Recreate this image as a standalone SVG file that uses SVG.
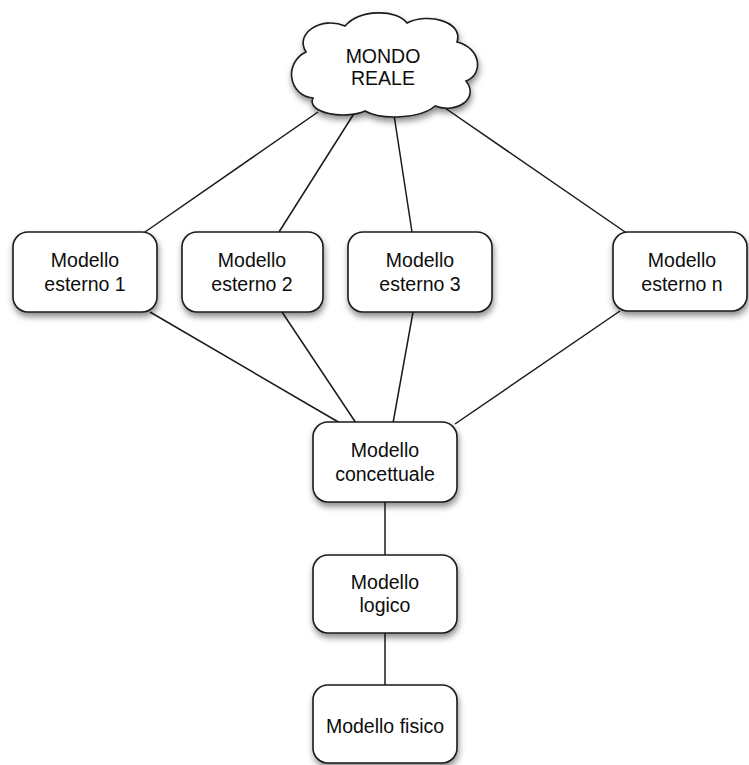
<svg xmlns="http://www.w3.org/2000/svg" width="749" height="765" viewBox="0 0 749 765">
  <style>
    .node { fill: #ffffff; stroke: #1a1a1a; stroke-width: 1.6; filter: url(#shadow); }
    .label { font-family: "Liberation Sans", Arial, sans-serif; font-size: 19.5px; fill: #0d0d0d; text-anchor: middle; }
    .edge { stroke: #1a1a1a; stroke-width: 1.5; fill: none; }
  </style>
  <defs>
    <filter id="shadow" x="-20%" y="-20%" width="140%" height="150%">
      <feDropShadow dx="1" dy="4" stdDeviation="3" flood-color="#000000" flood-opacity="0.45"/>
    </filter>
  </defs>
  <rect width="749" height="765" fill="#ffffff"/>

  <!-- connectors -->
  <g id="connectors">
    <line class="edge" x1="318" y1="112" x2="145" y2="232"/>
    <line class="edge" x1="355" y1="112" x2="279" y2="232"/>
    <line class="edge" x1="394" y1="115" x2="412" y2="232"/>
    <line class="edge" x1="445" y1="108" x2="628" y2="234"/>
    <line class="edge" x1="150" y1="312" x2="340" y2="423"/>
    <line class="edge" x1="282" y1="312" x2="356" y2="423"/>
    <line class="edge" x1="413" y1="312" x2="393" y2="423"/>
    <line class="edge" x1="620" y1="311" x2="455" y2="424"/>
    <line class="edge" x1="385" y1="502" x2="385" y2="555"/>
    <line class="edge" x1="385" y1="633" x2="385" y2="685"/>
  </g>

  <!-- real world cloud -->
  <g id="mondo-reale">
    <path class="node" d="M 306,52 C 294,33 322,16 345,26 C 360,9 397,9 407,23 C 428,12 464,22 457,42 C 481,48 484,74 466,81 C 480,99 456,114 435,106 C 420,119 381,120 365,111 C 345,120 306,113 313,98 C 289,96 283,63 306,52 Z"/>
    <text class="label" x="383" y="63">MONDO</text>
    <text class="label" x="383" y="85">REALE</text>
  </g>

  <g id="esterno-1">
    <rect class="node" x="13" y="232" width="144" height="80" rx="15"/>
    <text class="label" x="85" y="267">Modello</text>
    <text class="label" x="85" y="291">esterno 1</text>
  </g>

  <g id="esterno-2">
    <rect class="node" x="182" y="232" width="141" height="80" rx="15"/>
    <text class="label" x="252" y="267">Modello</text>
    <text class="label" x="252" y="291">esterno 2</text>
  </g>

  <g id="esterno-3">
    <rect class="node" x="348" y="232" width="144" height="80" rx="15"/>
    <text class="label" x="420" y="267">Modello</text>
    <text class="label" x="420" y="291">esterno 3</text>
  </g>

  <g id="esterno-n">
    <rect class="node" x="613" y="232" width="134" height="79" rx="15"/>
    <text class="label" x="682" y="267">Modello</text>
    <text class="label" x="682" y="291">esterno n</text>
  </g>

  <g id="concettuale">
    <rect class="node" x="313" y="422" width="144" height="80" rx="15"/>
    <text class="label" x="385" y="457">Modello</text>
    <text class="label" x="385" y="481">concettuale</text>
  </g>

  <g id="logico">
    <rect class="node" x="313" y="555" width="144" height="78" rx="15"/>
    <text class="label" x="385" y="589">Modello</text>
    <text class="label" x="385" y="612">logico</text>
  </g>

  <g id="fisico">
    <rect class="node" x="313" y="685" width="144" height="78" rx="15"/>
    <text class="label" x="385" y="733">Modello fisico</text>
  </g>
</svg>
